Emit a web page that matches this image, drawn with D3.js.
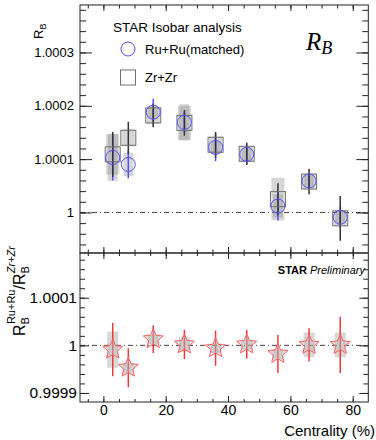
<!DOCTYPE html>
<html>
<head>
<meta charset="utf-8">
<script src="https://cdn.jsdelivr.net/npm/d3@7"></script>
<style>
  body { margin: 0; background: #fff; }
  svg { display: block; font-family: "Liberation Sans", Arial, Helvetica, sans-serif; }
</style>
</head>
<body>
<div id="chart"></div>
<script>
// centrality bin centres (%)
const centrality = [3, 8, 16, 26, 36, 46, 56, 66, 76];

// R_B, Ru+Ru (matched)
const ruRB   = [1.000103, 1.000090, 1.000188, 1.000169, 1.000122, 1.000109, 1.000012, 1.000059, 0.999991];
const ruStat = [0.000043, 0.000026, 0.000025, 0.000020, 0.000026, 0.000018, 0.000027, 0.000015, 0.000020];
const ruSys  = [0.000044, 0.000022, 0.000012, 0.000034, 0.000012, 0.000012, 0.000022, 0.000012, 0.000012];

// R_B, Zr+Zr
const zrRB   = [1.000109, 1.000140, 1.000182, 1.000168, 1.000127, 1.000110, 1.000025, 1.000058, 0.999989];
const zrStat = [0.000042, 0.000030, 0.000022, 0.000024, 0.000024, 0.000021, 0.000030, 0.000024, 0.000042];
const zrSys  = [0.000038, 0.000016, 0.000016, 0.000032, 0.000015, 0.000014, 0.000040, 0.000014, 0.000014];

// ratio Ru/Zr
const ratio     = [0.999991, 0.999953, 1.000013, 1.000002, 0.999994, 1.000002, 0.999982, 1.000001, 1.000001];
const ratioStat = [0.000056, 0.000041, 0.000029, 0.000031, 0.000037, 0.000030, 0.000040, 0.000035, 0.000059];
const ratioSys  = [0.000038, 0.000010, 0.000010, 0.000015, 0.000010, 0.000010, 0.000010, 0.000026, 0.000026];

// tick labels
const xTicks = [0, 20, 40, 60, 80];
const topTicks = [1, 1.0001, 1.0002, 1.0003];
const topTickLabels = ["1", "1.0001", "1.0002", "1.0003"];
const botTicks = [0.9999, 1, 1.0001];
const botTickLabels = ["0.9999", "1", "1.0001"];

const W = 376, H = 440;
const padL = 80, padR = 368.3, padT = 5, padMid = 253, padB = 402;

const svg = d3.select("#chart").append("svg")
    .attr("width", W)
    .attr("height", H);

const x = d3.scaleLinear().domain([-7.5, 85]).range([padL, padR]);
const yTop = d3.scaleLinear().domain([0.999924, 1.000389]).range([padMid, padT]);
const yBot = d3.scaleLinear().domain([0.999881, 1.000194]).range([padB, padMid]);

const xMinor = d3.range(-5, 85, 5);
const topMinor = d3.range(-3, 20).map(i => 1 + i * 0.00002);
const botMinor = d3.range(-5, 10).map(i => 1 + i * 0.00002);

const bandFill = "#7a7a7a", bandOp = 0.3;
const blue = "#5050ff";

function drawAxes(y0, y1, yScale, majors, labels, minors, majLen, minLen, fs, pad, xLen, xMinLen) {
    const g = svg.append("g");
    const inside = minors.filter(v => yScale(v) > y0 + 0.5 && yScale(v) < y1 - 0.5);
    // left
    g.append("g").attr("transform", `translate(${padL},0)`)
        .call(d3.axisLeft(yScale).tickValues(majors).tickFormat((d, i) => labels[i])
            .tickSizeInner(-majLen).tickSizeOuter(0).tickPadding(pad))
        .call(a => a.selectAll("text").style("font-size", fs + "px").attr("fill", "#000"));
    g.append("g").attr("transform", `translate(${padL},0)`)
        .call(d3.axisLeft(yScale).tickValues(inside).tickFormat("")
            .tickSizeInner(-minLen).tickSizeOuter(0));
    // right
    g.append("g").attr("transform", `translate(${padR},0)`)
        .call(d3.axisRight(yScale).tickValues(majors).tickFormat("").tickSizeInner(-majLen).tickSizeOuter(0));
    g.append("g").attr("transform", `translate(${padR},0)`)
        .call(d3.axisRight(yScale).tickValues(inside).tickFormat("")
            .tickSizeInner(-minLen).tickSizeOuter(0));
    // bottom / top x ticks
    g.append("g").attr("transform", `translate(0,${y1})`)
        .call(d3.axisBottom(x).tickValues(xTicks).tickFormat("").tickSizeInner(-xLen).tickSizeOuter(0));
    g.append("g").attr("transform", `translate(0,${y1})`)
        .call(d3.axisBottom(x).tickValues(xMinor).tickFormat("").tickSizeInner(-xMinLen).tickSizeOuter(0));
    g.append("g").attr("transform", `translate(0,${y0})`)
        .call(d3.axisTop(x).tickValues(xTicks).tickFormat("").tickSizeInner(-xLen).tickSizeOuter(0));
    g.append("g").attr("transform", `translate(0,${y0})`)
        .call(d3.axisTop(x).tickValues(xMinor).tickFormat("").tickSizeInner(-xMinLen).tickSizeOuter(0));
    g.selectAll(".domain").remove();
    g.selectAll(".tick line").attr("stroke", "#222");
    // frame
    svg.append("rect")
        .attr("x", padL).attr("y", y0)
        .attr("width", padR - padL).attr("height", y1 - y0)
        .attr("fill", "none").attr("stroke", "#222").attr("stroke-width", 1);
}

// ---------- top panel ----------
const topG = svg.append("g");

topG.append("line")
    .attr("x1", padL).attr("x2", padR)
    .attr("y1", yTop(1)).attr("y2", yTop(1))
    .attr("stroke", "#444").attr("stroke-dasharray", "5,3,1,3");

// systematic boxes
topG.selectAll(".zrSys").data(centrality).enter().append("rect")
    .attr("x", d => x(d) - 6.5).attr("width", 13)
    .attr("y", (d, i) => yTop(zrRB[i] + zrSys[i]))
    .attr("height", (d, i) => yTop(zrRB[i] - zrSys[i]) - yTop(zrRB[i] + zrSys[i]))
    .attr("fill", bandFill).attr("fill-opacity", bandOp);
topG.selectAll(".ruSys").data(centrality).enter().append("rect")
    .attr("x", d => x(d) - 5).attr("width", 10)
    .attr("y", (d, i) => yTop(ruRB[i] + ruSys[i]))
    .attr("height", (d, i) => yTop(ruRB[i] - ruSys[i]) - yTop(ruRB[i] + ruSys[i]))
    .attr("fill", bandFill).attr("fill-opacity", bandOp);

// stat errors
topG.selectAll(".ruErr").data(centrality).enter().append("line")
    .attr("x1", d => x(d)).attr("x2", d => x(d))
    .attr("y1", (d, i) => yTop(ruRB[i] + ruStat[i]))
    .attr("y2", (d, i) => yTop(ruRB[i] - ruStat[i]))
    .attr("stroke", blue).attr("stroke-width", 1.5);
topG.selectAll(".zrErr").data(centrality).enter().append("line")
    .attr("x1", d => x(d)).attr("x2", d => x(d))
    .attr("y1", (d, i) => yTop(zrRB[i] + zrStat[i]))
    .attr("y2", (d, i) => yTop(zrRB[i] - zrStat[i]))
    .attr("stroke", "#333").attr("stroke-width", 1.5);

// markers
topG.selectAll(".zrMark").data(centrality).enter().append("rect")
    .attr("x", d => x(d) - 7.5).attr("width", 15)
    .attr("y", (d, i) => yTop(zrRB[i]) - 7.5).attr("height", 15)
    .attr("fill", "none").attr("stroke", "#6e6e6e").attr("stroke-width", 1);
topG.selectAll(".ruMark").data(centrality).enter().append("circle")
    .attr("cx", d => x(d)).attr("cy", (d, i) => yTop(ruRB[i])).attr("r", 7)
    .attr("fill", "none").attr("stroke", blue).attr("stroke-width", 1);

drawAxes(padT, padMid, yTop, topTicks, topTickLabels, topMinor, 12, 6, 13, 6, 6, 3.5);

// legend
svg.append("text").attr("x", 113).attr("y", 32)
    .style("font-size", "13.5px").text("STAR Isobar analysis");
svg.append("circle").attr("cx", 128).attr("cy", 49).attr("r", 7)
    .attr("fill", "none").attr("stroke", blue).attr("stroke-width", 1);
svg.append("text").attr("x", 145).attr("y", 54)
    .style("font-size", "13px").text("Ru+Ru(matched)");
svg.append("rect").attr("x", 120.5).attr("y", 70).attr("width", 15).attr("height", 15)
    .attr("fill", "none").attr("stroke", "#6e6e6e");
svg.append("text").attr("x", 145).attr("y", 82)
    .style("font-size", "13px").text("Zr+Zr");

// R_B math label
const rb = svg.append("text").attr("x", 306).attr("y", 50)
    .style("font-family", "'Liberation Serif', 'DejaVu Serif', serif")
    .style("font-style", "italic").style("font-size", "25px");
rb.append("tspan").text("R");
rb.append("tspan").attr("dy", 4).style("font-size", "18px").text("B");

// top y title
const yt = svg.append("text").attr("transform", "translate(43,39) rotate(-90)")
    .style("font-size", "13px");
yt.append("tspan").text("R");
yt.append("tspan").attr("dy", 3).style("font-size", "9px").text("B");

// ---------- bottom panel ----------
const botG = svg.append("g");

botG.append("line")
    .attr("x1", padL).attr("x2", padR)
    .attr("y1", yBot(1)).attr("y2", yBot(1))
    .attr("stroke", "#444").attr("stroke-dasharray", "5,3,1,3");

botG.selectAll(".rSys").data(centrality).enter().append("rect")
    .attr("x", d => x(d) - 5.5).attr("width", 11)
    .attr("y", (d, i) => yBot(ratio[i] + ratioSys[i]))
    .attr("height", (d, i) => yBot(ratio[i] - ratioSys[i]) - yBot(ratio[i] + ratioSys[i]))
    .attr("fill", bandFill).attr("fill-opacity", bandOp);

// open 5-point star (ROOT style, fatter than d3.symbolStar)
const starShape = {
    draw(ctx) {
        const ro = 10.5, ri = 4.8;
        for (let k = 0; k < 10; k++) {
            const r = k % 2 ? ri : ro;
            const a = -Math.PI / 2 + k * Math.PI / 5;
            if (k === 0) ctx.moveTo(r * Math.cos(a), r * Math.sin(a));
            else ctx.lineTo(r * Math.cos(a), r * Math.sin(a));
        }
        ctx.closePath();
    }
};
const star = d3.symbol().type(starShape);

botG.selectAll(".rErr").data(centrality).enter().append("line")
    .attr("x1", d => x(d)).attr("x2", d => x(d))
    .attr("y1", (d, i) => yBot(ratio[i] + ratioStat[i]))
    .attr("y2", (d, i) => yBot(ratio[i] - ratioStat[i]))
    .attr("stroke", "#f03a3a").attr("stroke-width", 1.5);

botG.selectAll(".rMark").data(centrality).enter().append("path")
    .attr("d", star)
    .attr("transform", (d, i) => `translate(${x(d)},${yBot(ratio[i])})`)
    .attr("fill", "#bdbdbd").attr("fill-opacity", 0.45)
    .attr("stroke", "#ff6060").attr("stroke-width", 1);

drawAxes(padMid, padB, yBot, botTicks, botTickLabels, botMinor, 9, 5, 15.5, 3, 6, 3);

// x tick labels
svg.append("g").attr("transform", `translate(0,${padB})`)
    .call(d3.axisBottom(x).tickValues(xTicks).tickSize(0).tickPadding(3))
    .call(a => a.select(".domain").remove())
    .call(a => a.selectAll("text").style("font-size", "14px").attr("fill", "#000"));

svg.append("text").attr("x", 375).attr("y", 436).attr("text-anchor", "end")
    .style("font-size", "15px").text("Centrality (%)");

// STAR Preliminary
const sp = svg.append("text").attr("x", 365).attr("y", 274).attr("text-anchor", "end")
    .style("font-size", "11px");
sp.append("tspan").style("font-weight", "bold").text("STAR ");
sp.append("tspan").style("font-style", "italic").text("Preliminary");

// bottom y title
const yb = svg.append("text").attr("transform", "translate(25,336) rotate(-90)")
    .style("font-size", "16px");
yb.append("tspan").text("R");
yb.append("tspan").attr("dy", 4).style("font-size", "11px").text("B");
yb.append("tspan").attr("dx", -7).attr("dy", -14).style("font-size", "11px").text("Ru+Ru");
yb.append("tspan").attr("dy", 10).text("/R");
yb.append("tspan").attr("dy", 4).style("font-size", "11px").text("B");
yb.append("tspan").attr("dx", -7).attr("dy", -14).style("font-size", "11px")
    .style("font-style", "italic").text("Zr+Zr");
</script>
</body>
</html>
